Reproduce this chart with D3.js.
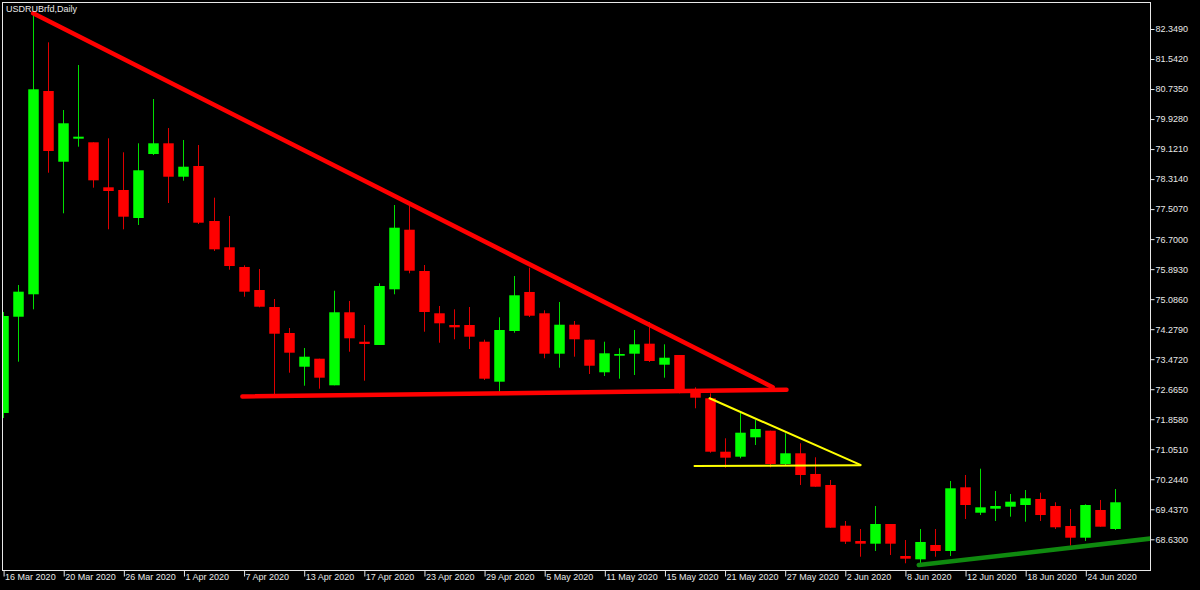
<!DOCTYPE html>
<html>
<head>
<meta charset="utf-8">
<script src="https://cdn.jsdelivr.net/npm/d3@7/dist/d3.min.js"></script>
<style>
  html, body { margin: 0; padding: 0; background: #000; }
  svg { display: block; }
  text { font-family: "Liberation Sans", Arial, sans-serif; }
</style>
</head>
<body>
<svg id="chart" width="1200" height="590"></svg>
<script>
// ---------------- DATA ----------------
const title = "USDRUBrfd,Daily";

const dates = [
  "16 Mar 2020","17 Mar 2020","18 Mar 2020","19 Mar 2020","20 Mar 2020",
  "23 Mar 2020","24 Mar 2020","25 Mar 2020","26 Mar 2020","27 Mar 2020",
  "30 Mar 2020","31 Mar 2020","1 Apr 2020","2 Apr 2020","3 Apr 2020",
  "6 Apr 2020","7 Apr 2020","8 Apr 2020","9 Apr 2020","10 Apr 2020",
  "13 Apr 2020","14 Apr 2020","15 Apr 2020","16 Apr 2020","17 Apr 2020",
  "20 Apr 2020","21 Apr 2020","22 Apr 2020","23 Apr 2020","24 Apr 2020",
  "27 Apr 2020","28 Apr 2020","29 Apr 2020","30 Apr 2020","1 May 2020",
  "4 May 2020","5 May 2020","6 May 2020","7 May 2020","8 May 2020",
  "11 May 2020","12 May 2020","13 May 2020","14 May 2020","15 May 2020",
  "18 May 2020","19 May 2020","20 May 2020","21 May 2020","22 May 2020",
  "25 May 2020","26 May 2020","27 May 2020","28 May 2020","29 May 2020",
  "1 Jun 2020","2 Jun 2020","3 Jun 2020","4 Jun 2020","5 Jun 2020",
  "8 Jun 2020","9 Jun 2020","10 Jun 2020","11 Jun 2020","12 Jun 2020",
  "15 Jun 2020","16 Jun 2020","17 Jun 2020","18 Jun 2020","19 Jun 2020",
  "22 Jun 2020","23 Jun 2020","24 Jun 2020","25 Jun 2020","26 Jun 2020"
];

const open = [
  72.026,74.614,75.217,80.682,78.781, 79.400,79.303,78.093,78.021,77.268,
  78.988,79.276,78.378,78.666,77.187, 76.480,75.951,75.332,74.875,74.176,
  73.270,73.485,72.770,74.733,73.942, 73.854,75.351,76.953,75.843,74.706,
  74.391,74.391,73.942,72.867,74.230, 75.279,74.706,73.620,74.399,73.996,
  73.120,73.566,73.620,73.889,73.324, 73.585,72.598,72.421,70.985,70.851,
  71.372,71.550,70.654,70.942,70.386, 70.090,68.996,68.584,68.512,69.041,
  68.181,68.092,68.477,68.316,70.028, 69.345,69.453,69.506,69.552,69.714,
  69.525,68.988,68.673,69.418,68.907
];
const high = [
  74.741,75.467,82.771,81.991,80.171, 81.381,79.303,79.411,79.034,79.276,
  80.467,79.687,79.365,79.230,77.814, 77.322,75.996,75.897,75.090,74.311,
  73.773,73.485,75.313,75.037,74.391, 75.512,77.617,77.617,76.004,74.902,
  74.813,74.875,73.996,74.598,75.709, 75.932,74.786,75.010,74.499,73.996,
  73.942,73.765,74.257,74.472,73.872, 73.585,72.716,72.555,71.345,72.060,
  71.837,71.550,71.480,71.211,70.835, 70.224,69.122,68.907,69.525,69.041,
  68.611,68.907,68.907,70.197,70.359, 70.528,69.929,69.848,69.955,69.883,
  69.625,69.445,69.571,69.687,69.982
];
const low = [
  71.891,73.405,74.813,78.486,77.394, 79.185,78.083,76.964,76.964,77.080,
  78.961,77.671,78.271,77.107,76.381, 75.878,75.152,74.867,72.536,73.109,
  72.759,72.679,72.770,73.673,72.894, 73.854,75.217,75.781,74.211,73.915,
  74.007,73.746,72.913,72.598,74.184, 74.606,73.496,73.243,73.539,73.074,
  73.020,72.948,73.047,73.397,72.975, 72.555,72.152,70.958,70.555,70.808,
  71.165,70.566,70.628,70.090,70.044, 68.942,68.504,68.162,68.316,68.208,
  67.985,67.985,68.162,68.181,69.176, 69.283,69.122,69.238,69.103,69.122,
  68.907,68.458,68.584,68.969,68.880
];
const close = [
  74.633,75.287,80.728,79.069,79.814, 79.454,78.281,77.994,77.303,78.550,
  79.276,78.378,78.647,77.142,76.426, 75.977,75.287,74.883,74.157,73.647,
  73.539,72.975,74.733,74.034,73.881, 75.440,77.007,75.851,74.741,74.437,
  74.329,74.077,72.948,74.257,75.190, 74.641,73.620,74.399,74.007,73.297,
  73.630,73.612,73.872,73.424,73.512, 72.644,72.437,70.985,70.824,71.496,
  71.595,70.654,70.942,70.359,70.044, 68.942,68.566,68.512,69.041,68.512,
  68.109,68.558,68.316,70.001,69.552, 69.490,69.525,69.641,69.732,69.283,
  68.953,68.673,69.552,68.969,69.625
];

const yTicks = [68.630,69.437,70.244,71.051,71.858,72.665,73.472,74.279,75.086,
                75.893,76.700,77.507,78.314,79.121,79.928,80.735,81.542,82.349];
const xTickIdx = [0,4,8,12,16,20,24,28,32,36,40,44,48,52,56,60,64,68,72];

// trend lines: bar index (fractional) & price
const trendLines = [
  { name: "resistance", color: "#ff0000", width: 4.5, pts: [[2.0, 82.771], [51.2, 72.72]] },
  { name: "support",    color: "#ff0000", width: 4.5, pts: [[15.92, 72.47], [52.12, 72.65]] },
  { name: "flagTop",    color: "#ffff00", width: 2,   pts: [[47.0, 72.421], [57.04, 70.63]] },
  { name: "flagBottom", color: "#ffff00", width: 2,   pts: [[46.0, 70.60], [57.04, 70.62]] },
  { name: "upTrend",    color: "#0f8a0f", width: 4.5, pts: [[60.92, 67.94], [77.0, 68.68]] }
];

// ---------------- CHART ----------------
const svg = d3.select("#chart");
const frame = { left: 2, top: 2, right: 1150, bottom: 570 };

const x = d3.scaleLinear().domain([0, 72]).range([3.1, 1085.3]);
const y = d3.scaleLinear().domain([68.630, 82.349]).range([539.3, 29]);

svg.append("rect").attr("width", 1200).attr("height", 590).attr("fill", "#000");

svg.append("defs").append("clipPath").attr("id", "plotClip")
  .append("rect")
  .attr("x", frame.left + 1).attr("y", frame.top + 1)
  .attr("width", frame.right - frame.left - 1)
  .attr("height", frame.bottom - frame.top - 1);

const plot = svg.append("g").attr("clip-path", "url(#plotClip)");

const bars = dates.map((d, i) => ({ i, d, o: open[i], h: high[i], l: low[i], c: close[i] }));
const bodyW = 10.5;

const g = plot.append("g");
// wicks
g.selectAll("line.wick").data(bars).enter().append("line")
  .attr("class", "wick")
  .attr("x1", b => Math.round(x(b.i)) + 0.5).attr("x2", b => Math.round(x(b.i)) + 0.5)
  .attr("y1", b => y(b.h)).attr("y2", b => y(b.l))
  .attr("stroke", b => b.c >= b.o ? "#00dd00" : "#dd0000")
  .attr("stroke-width", 1);
// bodies
g.selectAll("rect.body").data(bars).enter().append("rect")
  .attr("class", "body")
  .attr("x", b => Math.round(x(b.i)) + 0.5 - bodyW / 2)
  .attr("width", bodyW)
  .attr("y", b => Math.min(y(b.o), y(b.c)))
  .attr("height", b => Math.max(1.5, Math.abs(y(b.o) - y(b.c))))
  .attr("fill", b => b.c >= b.o ? "#00ff00" : "#ff0000");

// trend lines
const line = d3.line().x(p => x(p[0])).y(p => y(p[1]));
plot.selectAll("path.trend").data(trendLines).enter().append("path")
  .attr("class", "trend")
  .attr("d", t => line(t.pts))
  .attr("fill", "none")
  .attr("stroke", t => t.color)
  .attr("stroke-width", t => t.width)
  .attr("stroke-linecap", "round");

// frame
svg.append("rect")
  .attr("x", frame.left + 0.5).attr("y", frame.top + 0.5)
  .attr("width", frame.right - frame.left).attr("height", frame.bottom - frame.top)
  .attr("fill", "none").attr("stroke", "#e8e8e8").attr("stroke-width", 1);

// y axis
const yAxis = svg.append("g")
  .attr("transform", `translate(${frame.right + 0.5},0)`)
  .call(d3.axisRight(y).tickValues(yTicks).tickSize(4).tickPadding(1)
        .tickFormat(d3.format(".4f")));
yAxis.select(".domain").remove();
yAxis.selectAll("line").attr("stroke", "#e8e8e8");
yAxis.selectAll("text").attr("fill", "#e8e8e8").style("font-size", "9px")
  .style("font-family", "'Liberation Sans', Arial, sans-serif");

// x axis
const xAxis = svg.append("g")
  .attr("transform", `translate(0,${frame.bottom + 0.5})`)
  .call(d3.axisBottom(x).tickValues(xTickIdx).tickSize(6).tickFormat(i => dates[i]));
xAxis.select(".domain").remove();
xAxis.selectAll("line").attr("stroke", "#e8e8e8")
  .attr("transform", "translate(0.5,0)");
xAxis.selectAll("text").attr("fill", "#e8e8e8").style("font-size", "9px")
  .style("font-family", "'Liberation Sans', Arial, sans-serif")
  .attr("text-anchor", "start").attr("x", 1.5).attr("dy", "0.55em").attr("y", 5);

// title
svg.append("text").attr("x", 6).attr("y", 12)
  .attr("fill", "#e8e8e8").style("font-size", "9px").text(title);
</script>
</body>
</html>
